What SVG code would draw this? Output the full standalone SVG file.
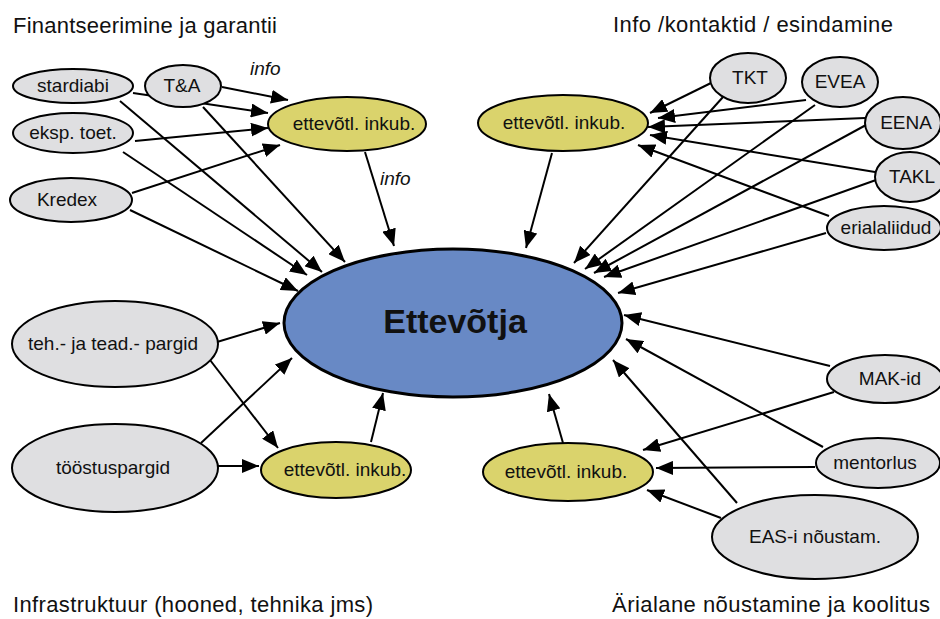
<svg xmlns="http://www.w3.org/2000/svg" width="940" height="619" viewBox="0 0 940 619">
<style>
text{font-family:"Liberation Sans",Arial,sans-serif;fill:#111}
.t{font-size:22px}
.n{font-size:19px;text-anchor:middle}
.i{font-size:19px;font-style:italic}
.g{fill:#dfdfe1;stroke:#000;stroke-width:2}
.y{fill:#dad36c;stroke:#000;stroke-width:2}
.c line{stroke:#000;stroke-width:2;marker-end:url(#ah)}
</style>
<defs>
<marker id="ah" markerWidth="17" markerHeight="14" refX="17" refY="7" orient="auto" markerUnits="userSpaceOnUse"><path d="M0,0 L17,7 L0,14 z" fill="#000"/></marker>
</defs>
<rect width="940" height="619" fill="#fff"/>
<text class="t" x="13" y="33" textLength="264">Finantseerimine ja garantii</text>
<text class="t" x="613" y="32" textLength="280">Info /kontaktid / esindamine</text>
<text class="t" x="13" y="612" textLength="360">Infrastruktuur (hooned, tehnika jms)</text>
<text class="t" x="612" y="612" textLength="318">Ärialane nõustamine ja koolitus</text>
<text class="i" x="250" y="75">info</text>
<text class="i" x="380" y="185">info</text>
<g class="c">
<line x1="222" y1="87" x2="288" y2="100"/>
<line x1="133" y1="93" x2="268" y2="113"/>
<line x1="135" y1="141" x2="268" y2="128"/>
<line x1="132" y1="193" x2="280" y2="145"/>
<line x1="365" y1="152" x2="394" y2="246"/>
<line x1="120" y1="101" x2="322" y2="272"/>
<line x1="203" y1="107" x2="345" y2="262"/>
<line x1="123" y1="152" x2="307" y2="275"/>
<line x1="130" y1="210" x2="298" y2="291"/>
<line x1="217" y1="342" x2="280" y2="323"/>
<line x1="201" y1="443" x2="292" y2="358"/>
<line x1="210" y1="360" x2="278" y2="448"/>
<line x1="217" y1="466" x2="259" y2="466"/>
<line x1="371" y1="442" x2="383" y2="393"/>
<line x1="711" y1="83" x2="650" y2="113"/>
<line x1="806" y1="100" x2="658" y2="118"/>
<line x1="865" y1="118" x2="648" y2="127"/>
<line x1="875" y1="172" x2="650" y2="135"/>
<line x1="829" y1="216" x2="638" y2="145"/>
<line x1="552" y1="153" x2="526" y2="248"/>
<line x1="723" y1="97" x2="574" y2="263"/>
<line x1="815" y1="105" x2="585" y2="269"/>
<line x1="866" y1="125" x2="594" y2="273"/>
<line x1="876" y1="180" x2="604" y2="277"/>
<line x1="826" y1="233" x2="618" y2="293"/>
<line x1="830" y1="366" x2="624" y2="315"/>
<line x1="823" y1="447" x2="626" y2="339"/>
<line x1="737" y1="503" x2="613" y2="360"/>
<line x1="834" y1="392" x2="643" y2="450"/>
<line x1="815" y1="467" x2="656" y2="468"/>
<line x1="721" y1="518" x2="647" y2="490"/>
<line x1="563" y1="443" x2="549" y2="394"/>
</g>
<g id="ettevotja"><ellipse cx="453" cy="323" rx="169" ry="74" fill="#6889c5" stroke="#000" stroke-width="3"/><text x="455" y="333" style="font-size:34px;font-weight:bold;text-anchor:middle">Ettevõtja</text></g>
<g id="stardiabi"><ellipse class="g" cx="73" cy="86" rx="60" ry="17"/><text class="n" x="73" y="92">stardiabi</text></g>
<g id="ta"><ellipse class="g" cx="183" cy="86" rx="38" ry="21"/><text class="n" x="182" y="92">T&amp;A</text></g>
<g id="eksp"><ellipse class="g" cx="73" cy="133" rx="60" ry="20"/><text class="n" x="73" y="139">eksp. toet.</text></g>
<g id="kredex"><ellipse class="g" cx="71" cy="200" rx="61" ry="22"/><text class="n" x="67" y="206">Kredex</text></g>
<g id="inkub1"><ellipse class="y" cx="347" cy="124" rx="79" ry="27"/><text class="n" x="354" y="130">ettevõtl. inkub.</text></g>
<g id="inkub2"><ellipse class="y" cx="563" cy="123" rx="85" ry="28"/><text class="n" x="564" y="129">ettevõtl. inkub.</text></g>
<g id="tkt"><ellipse class="g" cx="748" cy="78" rx="38" ry="25"/><text class="n" x="750" y="84">TKT</text></g>
<g id="evea"><ellipse class="g" cx="840" cy="82" rx="38" ry="25"/><text class="n" x="840" y="88">EVEA</text></g>
<g id="eena"><ellipse class="g" cx="903" cy="123" rx="38" ry="26"/><text class="n" x="906" y="129">EENA</text></g>
<g id="takl"><ellipse class="g" cx="910" cy="177" rx="35" ry="25"/><text class="n" x="912" y="183">TAKL</text></g>
<g id="eriala"><ellipse class="g" cx="884" cy="228" rx="57" ry="22"/><text class="n" x="886" y="234">erialaliidud</text></g>
<g id="teh"><ellipse class="g" cx="115" cy="344" rx="103" ry="43"/><text class="n" x="113" y="350">teh.- ja tead.- pargid</text></g>
<g id="toostus"><ellipse class="g" cx="115" cy="468" rx="103" ry="44"/><text class="n" x="113" y="474">tööstuspargid</text></g>
<g id="inkub3"><ellipse class="y" cx="336" cy="470" rx="75" ry="28"/><text class="n" x="345" y="476">ettevõtl. inkub.</text></g>
<g id="inkub4"><ellipse class="y" cx="568" cy="472" rx="85" ry="29"/><text class="n" x="566" y="478">ettevõtl. inkub.</text></g>
<g id="mak"><ellipse class="g" cx="885" cy="379" rx="58" ry="24"/><text class="n" x="890" y="385">MAK-id</text></g>
<g id="mentorlus"><ellipse class="g" cx="878" cy="463" rx="62" ry="25"/><text class="n" x="875" y="469">mentorlus</text></g>
<g id="eas"><ellipse class="g" cx="815" cy="537" rx="103" ry="42"/><text class="n" x="815" y="543">EAS-i nõustam.</text></g>
</svg>
